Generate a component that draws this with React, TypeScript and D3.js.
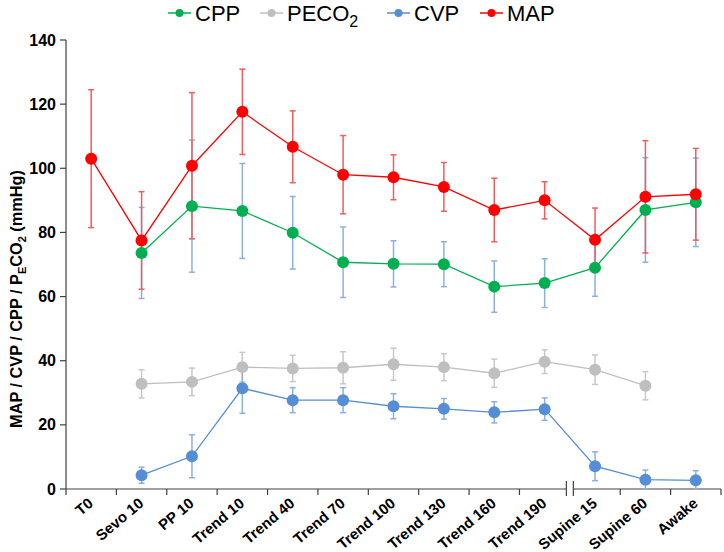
import React from "react";
import * as d3 from "d3";

const categories = ["T0", "Sevo 10", "PP 10", "Trend 10", "Trend 40", "Trend 70", "Trend 100", "Trend 130", "Trend 160", "Trend 190", "Supine 15", "Supine 60", "Awake"];

const mapMean = [103.0, 77.5, 100.8, 117.6, 106.7, 98.0, 97.2, 94.2, 87.0, 90.0, 77.7, 91.1, 91.9];
const mapSd = [21.5, 15.2, 22.8, 13.3, 11.2, 12.2, 7.0, 7.6, 9.9, 5.8, 9.9, 17.5, 14.3];

const cppMean = [null, 73.6, 88.2, 86.7, 79.9, 70.7, 70.2, 70.1, 63.1, 64.2, 69.0, 87.0, 89.4];
const cppSd = [null, 14.2, 20.6, 14.8, 11.3, 11.0, 7.2, 7.0, 8.0, 7.6, 8.9, 16.3, 13.8];

const pecoMean = [null, 32.8, 33.4, 38.0, 37.6, 37.8, 38.9, 38.0, 36.1, 39.7, 37.2, 32.2, null];
const pecoSd = [null, 4.4, 4.3, 4.6, 4.1, 5.0, 5.0, 4.2, 4.4, 3.7, 4.6, 4.4, null];

const cvpMean = [null, 4.3, 10.2, 31.4, 27.7, 27.7, 25.8, 25.0, 23.9, 24.9, 7.1, 2.9, 2.7];
const cvpSd = [null, 2.5, 6.7, 7.8, 3.9, 3.9, 3.9, 3.2, 3.3, 3.5, 4.5, 3.0, 3.0];

const yTicks = [0, 20, 40, 60, 80, 100, 120, 140];

type Series = { key: string; mean: (number | null)[]; sd: (number | null)[]; color: string; errColor: string };

const series: Series[] = [
  { key: "CPP", mean: cppMean, sd: cppSd, color: "#00B050", errColor: "#8EB0DE" },
  { key: "PECO2", mean: pecoMean, sd: pecoSd, color: "#BFBFBF", errColor: "#C8C8C8" },
  { key: "CVP", mean: cvpMean, sd: cvpSd, color: "#558ED5", errColor: "#8EB0DE" },
  { key: "MAP", mean: mapMean, sd: mapSd, color: "#FF0000", errColor: "#F25C5C" },
];

const W = 724, H = 552;
const left = 66, right = 721, top = 40, bottom = 489;
const font = "Arial, 'Liberation Sans', sans-serif";

export default function App() {
  const x = d3.scaleBand<string>().domain(categories).range([left, right]).padding(0);
  const cx = (c: string) => (x(c) as number) + x.bandwidth() / 2;
  const y = d3.scaleLinear().domain([0, 140]).range([bottom, top]);
  const axisColor = "#404040";
  const breakIdx = 10; // tick between Trend 190 and Supine 15
  const breakX = x(categories[breakIdx]) as number;

  const legendItems = [
    { key: "CPP", color: "#00B050", x: 168 },
    { key: "PECO", sub: "2", color: "#BFBFBF", x: 260 },
    { key: "CVP", color: "#558ED5", x: 387 },
    { key: "MAP", color: "#FF0000", x: 480 },
  ];

  return (
    <svg width={W} height={H} style={{ position: "absolute", left: 0, top: 0, background: "#fff" }} fontFamily={font}>
      {/* Legend */}
      {legendItems.map((l) => (
        <g key={l.key}>
          <line x1={l.x} x2={l.x + 23} y1={13} y2={13} stroke={l.color} strokeWidth={1.5} />
          <circle cx={l.x + 11.5} cy={13} r={4} fill={l.color} />
          <text x={l.x + 27} y={21} fontSize={22} fill="#000">
            {l.key}
            {l.sub ? <tspan fontSize={16} dy={6}>{l.sub}</tspan> : null}
          </text>
        </g>
      ))}

      {/* Y axis */}
      <line x1={left} x2={left} y1={top} y2={bottom} stroke={axisColor} strokeWidth={1.2} />
      {yTicks.map((t) => (
        <g key={t}>
          <line x1={left - 6} x2={left} y1={y(t)} y2={y(t)} stroke={axisColor} strokeWidth={1.2} />
          <text x={left - 10} y={y(t)} dy="0.35em" textAnchor="end" fontSize={16} fontWeight="bold" fill="#000">{t}</text>
        </g>
      ))}
      <text transform={`translate(22,${299}) rotate(-90)`} textAnchor="middle" fontSize={16.3} fontWeight="bold" fill="#000">
        MAP / CVP / CPP / P<tspan fontSize={11} dy={4}>E</tspan><tspan dy={-4}>CO</tspan><tspan fontSize={11} dy={4}>2</tspan><tspan dy={-4}> (mmHg)</tspan>
      </text>

      {/* X axis with break */}
      <line x1={left} x2={breakX - 3.5} y1={bottom} y2={bottom} stroke={axisColor} strokeWidth={1.2} />
      <line x1={breakX + 3.5} x2={right} y1={bottom} y2={bottom} stroke={axisColor} strokeWidth={1.2} />
      <line x1={breakX - 3.5} x2={breakX - 3.5} y1={481} y2={496} stroke={axisColor} strokeWidth={1.2} />
      <line x1={breakX + 3.5} x2={breakX + 3.5} y1={481} y2={496} stroke={axisColor} strokeWidth={1.2} />
      {categories.concat([""]).map((c, i) => {
        if (i === breakIdx) return null;
        const tx = left + i * x.bandwidth();
        return <line key={"t" + i} x1={tx} x2={tx} y1={bottom} y2={bottom + 6} stroke={axisColor} strokeWidth={1.2} />;
      })}
      {categories.map((c) => (
        <text key={c} transform={`translate(${cx(c) + 3},${505}) rotate(-40)`} textAnchor="end" fontSize={15} fontWeight="bold" fill="#000">{c}</text>
      ))}

      {/* Error bars */}
      {series.map((s) => (
        <g key={"e" + s.key} stroke={s.errColor} strokeWidth={1.5}>
          {categories.map((c, i) => {
            const m = s.mean[i], sd = s.sd[i];
            if (m == null || sd == null) return null;
            const px = cx(c);
            const y1 = y(m + sd), y2 = y(Math.max(0, m - sd));
            return (
              <g key={c}>
                <line x1={px} x2={px} y1={y1} y2={y2} />
                <line x1={px - 3} x2={px + 3} y1={y1} y2={y1} />
                <line x1={px - 3} x2={px + 3} y1={y2} y2={y2} />
              </g>
            );
          })}
        </g>
      ))}

      {/* Lines and markers */}
      {series.map((s) => {
        const pts = categories.map((c, i) => ({ c, v: s.mean[i] })).filter((p) => p.v != null) as { c: string; v: number }[];
        const line = d3.line<{ c: string; v: number }>().x((p) => cx(p.c)).y((p) => y(p.v));
        return (
          <g key={"l" + s.key}>
            <path d={line(pts) || ""} fill="none" stroke={s.color} strokeWidth={1.3} />
            {pts.map((p) => (
              <circle key={p.c} cx={cx(p.c)} cy={y(p.v)} r={6} fill={s.color} />
            ))}
          </g>
        );
      })}
    </svg>
  );
}
